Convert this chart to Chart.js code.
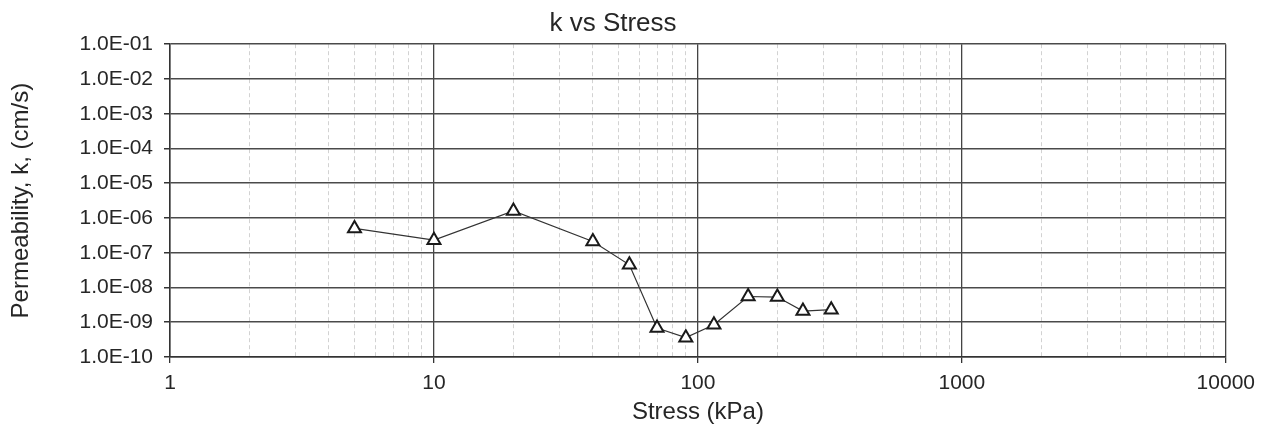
<!DOCTYPE html>
<html lang="en">
<head>
<meta charset="UTF-8">
<title>k vs Stress</title>
<script src="https://cdn.jsdelivr.net/npm/chart.js"></script>
<style>
    * { margin: 0; padding: 0; box-sizing: border-box; }
    body { background: #fff; width: 1263px; height: 430px; overflow: hidden; }
    canvas { display: block; }
</style>
</head>
<body>
<canvas id="grafico" width="1263" height="430"></canvas>
<script>
    // data
    const stress = [5, 10, 20, 40, 55, 70, 90, 115, 155, 200, 250, 320];
    const permeability = [5.0e-7, 2.3e-7, 1.6e-6, 2.1e-7, 4.5e-8, 6.8e-10, 3.6e-10, 8.5e-10, 5.5e-9, 5.3e-9, 2.1e-9, 2.3e-9];

    const xTicks = [1, 10, 100, 1000, 10000];
    const yTicks = [1e-10, 1e-9, 1e-8, 1e-7, 1e-6, 1e-5, 1e-4, 1e-3, 1e-2, 1e-1];
    const yTickLabels = ['1.0E-10', '1.0E-09', '1.0E-08', '1.0E-07', '1.0E-06', '1.0E-05', '1.0E-04', '1.0E-03', '1.0E-02', '1.0E-01'];

    const fontFam = '"Liberation Sans", Arial, sans-serif';
    const textColor = '#262626';

    // minor gridlines 2..9 inside each decade
    let xGrid = [];
    for (let i = 0; i < xTicks.length; i++) {
        xGrid.push(xTicks[i]);
        if (i < xTicks.length - 1) {
            for (let k = 2; k <= 9; k++) xGrid.push(xTicks[i] * k);
        }
    }

    const isMajorX = v => xTicks.includes(v);

    let ctx = document.getElementById('grafico').getContext('2d');

    new Chart(ctx, {
        type: 'scatter',
        data: {
            datasets: [{
                label: 'k',
                data: stress.map((s, i) => ({ x: s, y: permeability[i] })),
                showLine: true,
                borderColor: '#333',
                borderWidth: 1.2,
                tension: 0,
                pointStyle: 'triangle',
                pointRadius: 7.5,
                pointBackgroundColor: '#fff',
                pointBorderColor: '#1a1a1a',
                pointBorderWidth: 2
            }]
        },
        options: {
            responsive: false,
            animation: false,
            layout: { padding: { left: 0, right: 37, top: 0, bottom: 0 } },
            plugins: {
                legend: { display: false },
                tooltip: { enabled: false },
                title: {
                    display: true,
                    text: 'k vs Stress',
                    color: textColor,
                    font: { family: fontFam, size: 26, weight: 'normal' },
                    padding: { top: 8, bottom: 5 }
                }
            },
            scales: {
                x: {
                    type: 'logarithmic',
                    min: 1,
                    max: 10000,
                    afterBuildTicks: scale => { scale.ticks = xGrid.map(v => ({ value: v })); },
                    afterFit: scale => { scale.height = 73; },
                    ticks: {
                        autoSkip: false,
                        maxRotation: 0,
                        padding: 8,
                        color: textColor,
                        font: { family: fontFam, size: 21 },
                        callback: v => isMajorX(v) ? String(v) : ''
                    },
                    grid: {
                        color: c => isMajorX(c.tick.value) ? '#444' : '#d2d2d2',
                        lineWidth: c => isMajorX(c.tick.value) ? 1.3 : 1,
                        tickColor: c => isMajorX(c.tick.value) ? '#333' : 'rgba(0,0,0,0)',
                        tickLength: 6
                    },
                    border: {
                        color: '#333',
                        width: 1.5,
                        dash: c => (c.tick && !isMajorX(c.tick.value)) ? [4, 3] : []
                    },
                    title: {
                        display: true,
                        text: 'Stress (kPa)',
                        color: textColor,
                        font: { family: fontFam, size: 24 },
                        padding: { top: 0, bottom: 3 }
                    }
                },
                y: {
                    type: 'logarithmic',
                    min: 1e-10,
                    max: 1e-1,
                    afterBuildTicks: scale => { scale.ticks = yTicks.map(v => ({ value: v })); },
                    afterFit: scale => { scale.width = 170; },
                    ticks: {
                        autoSkip: false,
                        padding: 11,
                        color: textColor,
                        font: { family: fontFam, size: 21 },
                        callback: v => {
                            let i = yTicks.indexOf(v);
                            return i >= 0 ? yTickLabels[i] : '';
                        }
                    },
                    grid: {
                        color: '#4a4a4a',
                        lineWidth: 1.5,
                        tickColor: '#333',
                        tickLength: 6
                    },
                    border: { color: '#333', width: 1.5 },
                    title: {
                        display: true,
                        text: 'Permeability, k, (cm/s)',
                        color: textColor,
                        font: { family: fontFam, size: 24 },
                        padding: { top: 7, bottom: 0 }
                    }
                }
            }
        }
    });
</script>
</body>
</html>
